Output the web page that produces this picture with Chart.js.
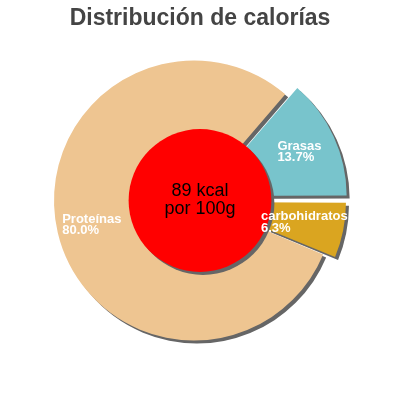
<!DOCTYPE html>
<html>
<head>
<meta charset="utf-8">
<script src="https://cdn.jsdelivr.net/npm/chart.js@4.4.1/dist/chart.umd.min.js"></script>
<style>
  html, body { margin: 0; padding: 0; background: #fff; }
  #wrap { width: 400px; height: 400px; }
</style>
</head>
<body>
<div id="wrap"><canvas id="chart"></canvas></div>
<script>
const title = 'Distribución de calorías'
const labels = ['Grasas', 'carbohidratos', 'Proteínas']
const values = [13.7, 6.3, 80.0]
const valueLabels = ['13.7%', '6.3%', '80.0%']
const colors = ['#78c4cc', '#daa520', '#eec591']
const explode = [44, 30, 0]
const centerText = ['89 kcal', 'por 100g']

const FONT = "'Liberation Sans', Arial, sans-serif"
const total = values.reduce((a, b) => a + b, 0)
// first slice ends at 3 o'clock, rest goes clockwise
const startAngle = 90 - 360 * values[0] / total

const decor = {
  id: 'decor',
  beforeDatasetsDraw(chart) {
    const ctx = chart.ctx
    ctx.save()
    ctx.shadowColor = '#666'
    ctx.shadowOffsetX = 3
    ctx.shadowOffsetY = 3
    ctx.shadowBlur = 0
  },
  afterDatasetsDraw(chart) {
    const ctx = chart.ctx
    const arcs = chart.getDatasetMeta(0).data
    const r = arcs[0].outerRadius
    const cx = chart.width / 2
    const cy = arcs[0].y

    // red disc in the middle, still with shadow
    ctx.beginPath()
    ctx.arc(cx, cy, r * 0.51, 0, Math.PI * 2)
    ctx.fillStyle = '#ff0000'
    ctx.fill()
    ctx.restore()

    ctx.save()
    ctx.fillStyle = '#000'
    ctx.font = '18px ' + FONT
    ctx.textAlign = 'center'
    ctx.textBaseline = 'middle'
    ctx.fillText(centerText[0], cx, cy - 9)
    ctx.fillText(centerText[1], cx, cy + 8.5)

    // slice labels, block centred on the mid angle
    ctx.font = 'bold 13px ' + FONT
    ctx.fillStyle = '#fff'
    ctx.textAlign = 'left'
    arcs.forEach((arc, i) => {
      const mid = (arc.startAngle + arc.endAngle) / 2
      const d = explode[i] / 4 + arc.outerRadius * 0.75
      const lx = arc.x + Math.cos(mid) * d
      const ly = arc.y + Math.sin(mid) * d
      const lines = [labels[i], valueLabels[i]]
      const w = Math.max(...lines.map(t => ctx.measureText(t).width))
      lines.forEach((t, j) => {
        ctx.fillText(t, lx - w / 2, ly + (j - 0.5) * 11.5)
      })
    })

    ctx.font = 'bold 23px ' + FONT
    ctx.fillStyle = '#444'
    ctx.textAlign = 'center'
    ctx.textBaseline = 'alphabetic'
    ctx.fillText(title, chart.width / 2, 25)
    ctx.restore()
  },
}

new Chart(document.getElementById('chart'), {
  type: 'pie',
  data: {
    labels: labels,
    datasets: [
      {
        data: values,
        backgroundColor: colors,
        borderWidth: 0,
        offset: explode,
        radius: 140,
      },
    ],
  },
  options: {
    responsive: true,
    maintainAspectRatio: false,
    animation: false,
    rotation: startAngle,
    layout: { padding: { top: 40, bottom: 39, left: 0, right: 12 } },
    plugins: {
      legend: { display: false },
      tooltip: { enabled: false },
      title: { display: false },
    },
  },
  plugins: [decor],
})
</script>
</body>
</html>
